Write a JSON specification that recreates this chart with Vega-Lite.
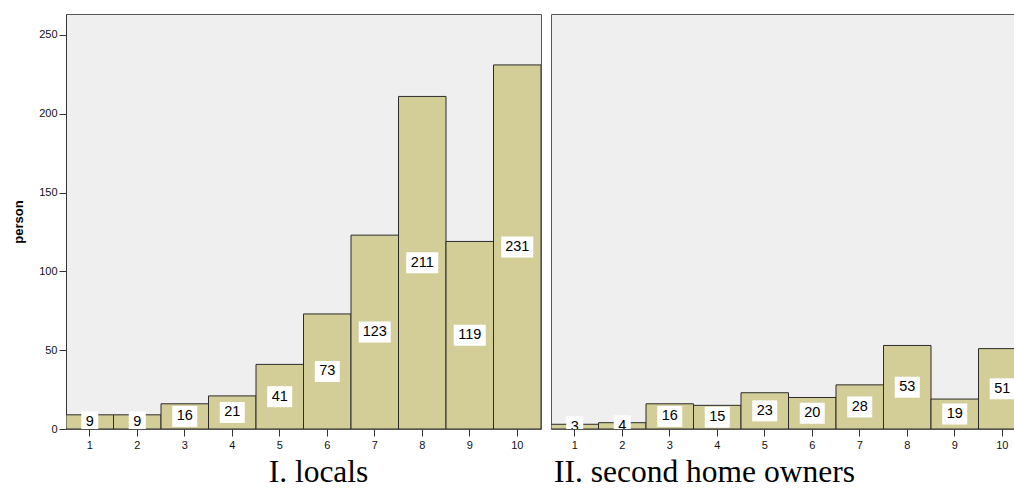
{
  "$schema": "https://vega.github.io/schema/vega-lite/v6.json",
  "padding": {"left": 12, "top": 13, "right": 0, "bottom": 0},
  "background": "white",
  "datasets": {
    "locals": [
      {"score": "1", "n": 9}, {"score": "2", "n": 9}, {"score": "3", "n": 16}, {"score": "4", "n": 21}, {"score": "5", "n": 41},
      {"score": "6", "n": 73}, {"score": "7", "n": 123}, {"score": "8", "n": 211}, {"score": "9", "n": 119}, {"score": "10", "n": 231}
    ],
    "owners": [
      {"score": "1", "n": 3}, {"score": "2", "n": 4}, {"score": "3", "n": 16}, {"score": "4", "n": 15}, {"score": "5", "n": 23},
      {"score": "6", "n": 20}, {"score": "7", "n": 28}, {"score": "8", "n": 53}, {"score": "9", "n": 19}, {"score": "10", "n": 51}
    ]
  },
  "config": {
    "font": "Liberation Sans",
    "view": {"fill": "#EFEFEF", "stroke": "#555555", "strokeWidth": 1},
    "concat": {"spacing": 8},
    "axis": {
      "grid": false,
      "labelFont": "Liberation Sans",
      "labelFontSize": 11,
      "labelColor": "#111111",
      "tickColor": "#333333",
      "domainColor": "#333333",
      "tickSize": 7
    },
    "title": {"font": "Liberation Serif", "fontSize": 31.5, "fontWeight": "normal", "color": "#000000", "orient": "bottom", "offset": 7}
  },
  "hconcat": [
    {
      "width": 475,
      "height": 415,
      "data": {"name": "locals"},
      "title": {"text": "I. locals", "anchor": "middle", "dx": 15},
      "transform": [{"calculate": "datum.n / 2", "as": "mid"}],
      "encoding": {
        "x": {
          "field": "score", "type": "ordinal", "sort": null,
          "scale": {"domain": ["1","2","3","4","5","6","7","8","9","10"], "paddingInner": 0, "paddingOuter": 0},
          "axis": {"title": null, "labelAngle": 0, "domain": false, "labelPadding": 3}
        }
      },
      "layer": [
        {
          "mark": {"type": "bar", "fill": "#D3CE97", "stroke": "#2B2B2B", "strokeWidth": 1, "clip": true},
          "encoding": {
            "y": {
              "field": "n", "type": "quantitative",
              "scale": {"domain": [0, 263.3], "nice": false, "zero": true},
              "axis": {"title": "person", "titleFont": "Liberation Sans", "titleFontSize": 13, "titleFontWeight": "bold", "titleColor": "#000000", "titlePadding": 13, "values": [0, 50, 100, 150, 200, 250], "labelPadding": 2, "domain": true}
            }
          }
        },
        {
          "mark": {"type": "tick", "orient": "horizontal", "color": "white", "opacity": 1, "thickness": 21, "clip": true},
          "encoding": {
            "y": {"field": "mid", "type": "quantitative"},
            "size": {"condition": [{"test": "datum.n >= 100", "value": 32}, {"test": "datum.n >= 10", "value": 25}], "value": 17}
          }
        },
        {
          "mark": {"type": "text", "fontSize": 14.5, "color": "#000000", "baseline": "middle", "align": "center", "clip": true},
          "encoding": {
            "y": {"field": "mid", "type": "quantitative"},
            "text": {"field": "n", "type": "quantitative"}
          }
        }
      ]
    },
    {
      "width": 463,
      "height": 415,
      "data": {"name": "owners"},
      "title": {"text": "II. second home owners", "anchor": "start", "dx": 3},
      "transform": [{"calculate": "datum.n / 2", "as": "mid"}],
      "encoding": {
        "x": {
          "field": "score", "type": "ordinal", "sort": null,
          "scale": {"domain": ["1","2","3","4","5","6","7","8","9","10"], "paddingInner": 0, "paddingOuter": 0, "range": [0, 475]},
          "axis": {"title": null, "labelAngle": 0, "domain": false, "labelPadding": 3}
        }
      },
      "layer": [
        {
          "mark": {"type": "bar", "fill": "#D3CE97", "stroke": "#2B2B2B", "strokeWidth": 1, "clip": true},
          "encoding": {
            "y": {
              "field": "n", "type": "quantitative",
              "scale": {"domain": [0, 263.3], "nice": false, "zero": true},
              "axis": null
            }
          }
        },
        {
          "mark": {"type": "tick", "orient": "horizontal", "color": "white", "opacity": 1, "thickness": 21, "clip": true},
          "encoding": {
            "y": {"field": "mid", "type": "quantitative"},
            "size": {"condition": [{"test": "datum.n >= 100", "value": 32}, {"test": "datum.n >= 10", "value": 25}], "value": 17}
          }
        },
        {
          "mark": {"type": "text", "fontSize": 14.5, "color": "#000000", "baseline": "middle", "align": "center", "clip": true},
          "encoding": {
            "y": {"field": "mid", "type": "quantitative"},
            "text": {"field": "n", "type": "quantitative"}
          }
        }
      ]
    }
  ]
}
